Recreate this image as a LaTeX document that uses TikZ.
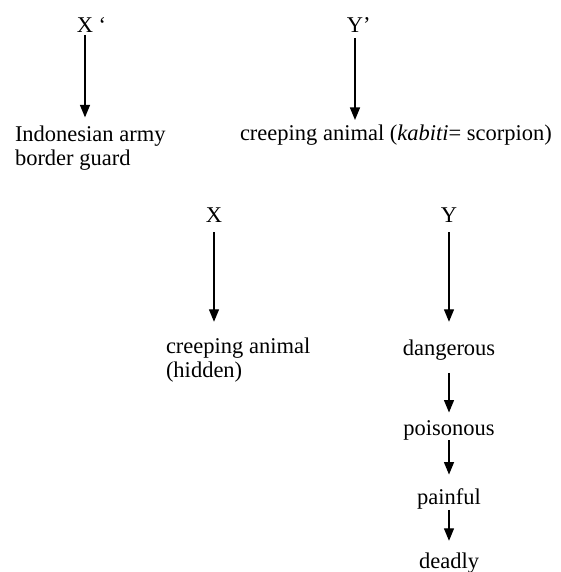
\documentclass[tikz,border=0pt]{standalone}
\usepackage{fontspec}
\setmainfont{Liberation Serif}
\usetikzlibrary{arrows.meta}
\tikzset{
  lbl/.style={inner sep=0pt, outer sep=0pt, font=\fontsize{22.5}{24.5}\selectfont},
  arr/.style={line width=1.3pt, -{Triangle[width=10pt,length=12.5pt]}}
}
\begin{document}
\begin{tikzpicture}[x=1pt,y=-1pt]
\useasboundingbox (0,0) rectangle (560,572);
% top level
\node[lbl, anchor=base] (Xp) at (85,33) {X\rlap{ ‘}};
\node[lbl, anchor=base] (Yp) at (355,33) {Y\rlap{’}};
\node[lbl, anchor=base west, align=left] (IA) at (15,165.5) {Indonesian army\\border guard};
\node[lbl, anchor=base west] (CA) at (240,141) {creeping animal (\textit{kabiti}= scorpion)};
% second level
\node[lbl, anchor=base] (X) at (214,222) {X};
\node[lbl, anchor=base] (Y) at (449,222) {Y};
\node[lbl, anchor=base west, align=left] (CAH) at (166,377.5) {creeping animal\\(hidden)};
\node[lbl, anchor=base] (D1) at (449,355) {dangerous};
\node[lbl, anchor=base] (D2) at (449,435) {poisonous};
\node[lbl, anchor=base] (D3) at (449,504) {painful};
\node[lbl, anchor=base] (D4) at (449,568) {deadly};
% arrows
\draw[arr, shorten <=2pt, shorten >=8pt] (Xp.south) -- (Xp.south |- IA.north);
\draw[arr, shorten <=5pt, shorten >=5.4pt] (Yp.south) -- (Yp.south |- CA.north);
\draw[arr, shorten <=10pt, shorten >=15.6pt] (X.south) -- (X.south |- CAH.north);
\draw[arr, shorten <=10pt, shorten >=17.6pt] (Y.south) -- (Y.south |- D1.north);
\draw[arr, shorten <=13pt, shorten >=7.6pt] (D1) -- (D2);
\draw[arr, shorten <=0.5pt, shorten >=13.6pt] (D2) -- (D3);
\draw[arr, shorten <=1pt, shorten >=11.6pt] (D3) -- (D4);
\end{tikzpicture}
\end{document}
